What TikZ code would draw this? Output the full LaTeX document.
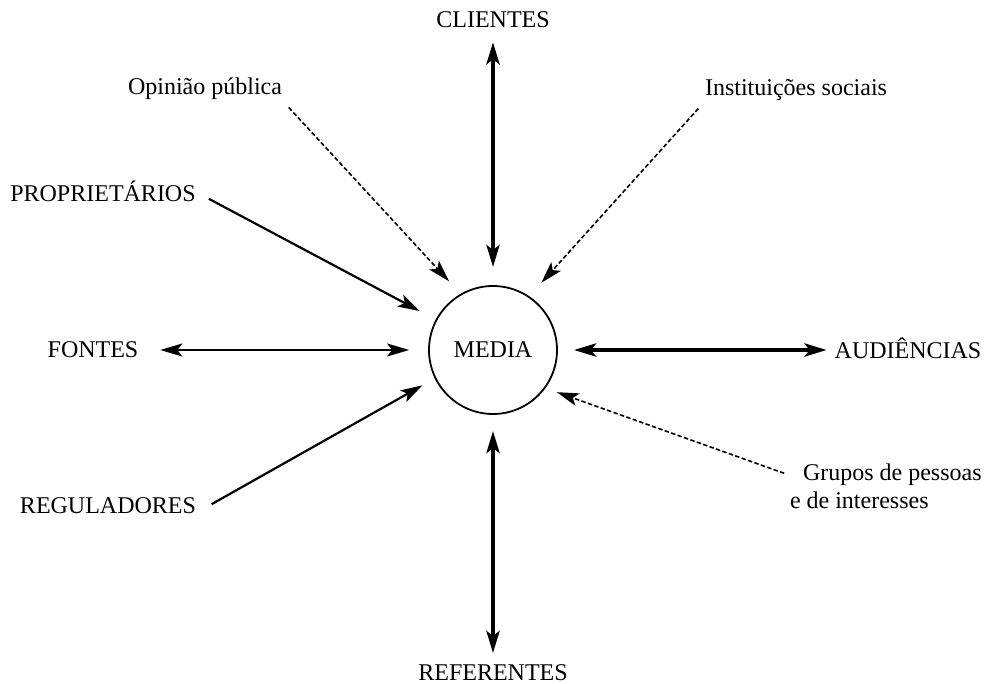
\documentclass[tikz,border=0pt]{standalone}
\usepackage{fontspec}
\setmainfont{Liberation Serif}
\usetikzlibrary{arrows.meta}
\begin{document}
\begin{tikzpicture}[x=0.5pt,y=-0.5pt,
  lbl/.style={inner sep=0pt, outer sep=0pt, anchor=base, font=\fontsize{12}{14}\selectfont},
  hub/.style={circle, draw, line width=0.9pt, minimum size=64pt, inner sep=0pt, font=\fontsize{12}{14}\selectfont},
  head/.tip={Stealth[length=11pt,width=6.5pt,inset=2.5pt]},
  heavy/.style={line width=2.2pt, {head}-{head}},
  twoway/.style={line width=1.1pt, {head}-{head}},
  link/.style={line width=1.1pt, -{head}},
  influence/.style={line width=0.8pt, dash pattern=on 2.2pt off 1.2pt, -{head}}
]
\useasboundingbox (0,0) rectangle (990,684);

% central node
\node[hub] (media) at (493,350) {MEDIA};

% surrounding actors
\node[lbl] (clientes) at (493,28) {CLIENTES};
\node[lbl] (opin) at (205,95) {Opinião pública};
\node[lbl] (inst) at (796,96) {Instituições sociais};
\node[lbl] (prop) at (103,202) {PROPRIETÁRIOS};
\node[lbl] (fontes) at (93,357) {FONTES};
\node[lbl] (aud) at (908,358) {AUDIÊNCIAS};
\node[lbl] (reg) at (108,513) {REGULADORES};
\node[lbl, anchor=base west] (grupos1) at (803,480) {Grupos de pessoas};
\node[lbl, anchor=base west] (grupos2) at (790,508) {e de interesses};
\node[lbl] (refer) at (493,680) {REFERENTES};

% two-way relations
\draw[heavy, shorten <=7pt, shorten >=9pt] (clientes.south) -- (media.north);
\draw[heavy, shorten <=8pt, shorten >=5.5pt] (media.south) -- (refer.north);
\draw[heavy, shorten <=8pt, shorten >=4pt] (media.east) -- (aud.west |- media.east);
\draw[twoway, shorten <=11pt, shorten >=9.5pt] (fontes.east |- media.west) -- (media.west);

% one-way relations
\draw[link, shorten <=7.5pt, shorten >=9pt] (prop.east) -- (media.152.5);
\draw[link, shorten <=9pt, shorten >=7pt] (reg.base east) -- (media.206.6);

% weaker influences
\draw[influence, shorten <=5pt, shorten >=8.5pt] (opin.south east) -- (media.120.4);
\draw[influence, shorten <=5pt, shorten >=9pt] (inst.south west) -- (media.56.9);
\draw[influence, shorten <=10pt, shorten >=6pt] (grupos1.base west) -- (media.-36.4);
\end{tikzpicture}
\end{document}
